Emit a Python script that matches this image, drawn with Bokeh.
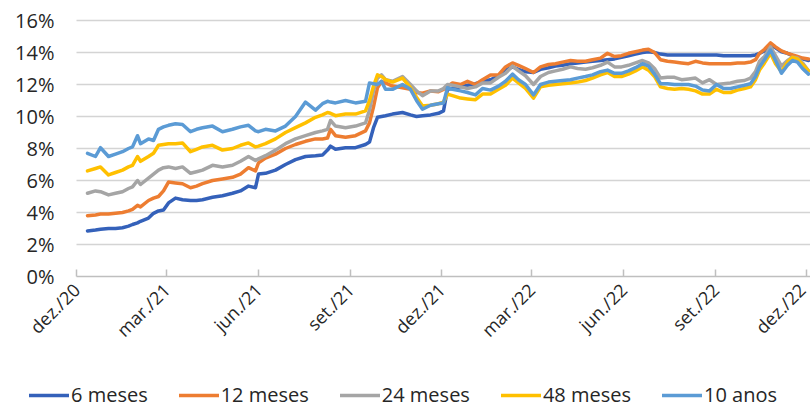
import pandas as pd
from bokeh.plotting import figure
from bokeh.models import (ColumnDataSource, FixedTicker, Range1d, Legend, LegendItem,
                          PrintfTickFormatter)
from bokeh.embed import file_html
from bokeh.resources import INLINE

# ---------------- data ----------------
START = "2020-12-01"
DAYS = [11, 19, 24, 32, 39, 46, 52, 56, 61, 64,
        72, 77, 82, 87, 92, 99, 106, 114, 120, 126,
        136, 146, 156, 164, 172, 179, 182, 189, 199, 209,
        219, 229, 239, 246, 251, 254, 259, 269, 279, 289,
        293, 297, 301, 305, 309, 316, 326, 334, 340, 346,
        354, 362, 367, 371, 376, 384, 391, 399, 406, 414,
        422, 429, 436, 442, 449, 457, 464, 472, 479, 486,
        494, 501, 509, 516, 524, 531, 538, 545, 552, 559,
        566, 572, 578, 584, 591, 598, 605, 612, 619, 626,
        633, 640, 647, 654, 661, 668, 674, 679, 683, 688,
        694, 699, 705, 711, 716, 721, 726, 732]

S_6M = [2.85, 2.9, 2.95, 3.0, 3.0, 3.05, 3.15, 3.25, 3.35, 3.45,
        3.65, 3.95, 4.1, 4.15, 4.6, 4.9, 4.8, 4.75, 4.75, 4.8,
        4.95, 5.05, 5.2, 5.35, 5.65, 5.55, 6.4, 6.45, 6.65, 7.0,
        7.3, 7.5, 7.55, 7.6, 7.9, 8.15, 7.95, 8.05, 8.05, 8.25,
        8.4, 9.3, 9.95, 10.0, 10.05, 10.15, 10.25, 10.1, 10.0, 10.05,
        10.1, 10.2, 10.35, 11.7, 11.75, 11.85, 11.95, 12.05, 12.2, 12.3,
        12.55, 12.9, 13.1, 12.95, 12.8, 12.75, 12.95, 13.05, 13.15, 13.2,
        13.3, 13.35, 13.4, 13.45, 13.5, 13.55, 13.6, 13.7, 13.8, 13.9,
        14.0, 14.05, 14.0, 13.9, 13.85, 13.85, 13.85, 13.85, 13.85, 13.85,
        13.85, 13.85, 13.8, 13.8, 13.8, 13.8, 13.8, 13.85, 13.95, 14.1,
        14.45, 14.3, 14.05, 13.95, 13.8, 13.7, 13.6, 13.5]

S_12M = [3.8, 3.85, 3.9, 3.9, 3.95, 4.0, 4.1, 4.2, 4.45, 4.35,
         4.75, 4.9, 5.0, 5.35, 5.9, 5.85, 5.8, 5.55, 5.65, 5.8,
         6.0, 6.1, 6.2, 6.4, 6.8, 6.6, 7.1, 7.4, 7.65, 8.0,
         8.25, 8.45, 8.6, 8.6, 8.65, 9.2, 8.8, 8.7, 8.8, 9.1,
         9.6, 10.6, 11.8, 12.2, 12.1, 11.9, 11.8, 11.7, 11.5, 11.45,
         11.6, 11.55, 11.7, 11.9, 12.1, 12.0, 12.2, 12.0, 12.3, 12.6,
         12.6, 13.1, 13.35, 13.2, 13.0, 12.75, 13.1, 13.25, 13.3, 13.4,
         13.5, 13.45, 13.45, 13.55, 13.65, 13.95, 13.75, 13.8, 13.95, 14.05,
         14.15, 14.2, 14.0, 13.55, 13.45, 13.4, 13.35, 13.3, 13.45, 13.35,
         13.3, 13.3, 13.3, 13.3, 13.35, 13.35, 13.4, 13.55, 13.95, 14.2,
         14.6, 14.35, 14.1, 13.95, 13.85, 13.75, 13.65, 13.6]

S_24M = [5.2, 5.35, 5.3, 5.1, 5.2, 5.3, 5.5, 5.6, 6.0, 5.75,
         6.15, 6.4, 6.65, 6.8, 6.85, 6.75, 6.85, 6.45, 6.55, 6.65,
         6.95, 6.85, 6.95, 7.2, 7.5, 7.25, 7.35, 7.55, 7.9, 8.3,
         8.6, 8.8, 9.0, 9.1, 9.2, 9.75, 9.4, 9.3, 9.4, 9.6,
         10.4, 11.6, 12.4, 12.6, 12.3, 12.2, 12.5, 12.0, 11.6, 11.3,
         11.6, 11.6, 11.75, 12.0, 11.95, 11.85, 11.75, 11.85, 12.1, 12.1,
         12.45, 12.7, 13.15, 12.85, 12.55, 12.0, 12.5, 12.75, 12.85, 12.95,
         13.1, 13.0, 12.95, 13.05, 13.2, 13.4, 13.1, 13.1, 13.2, 13.35,
         13.5, 13.35, 13.0, 12.4, 12.45, 12.45, 12.3, 12.35, 12.4, 12.1,
         12.3, 12.0, 12.05, 12.1, 12.2, 12.25, 12.4, 12.8, 13.45, 13.75,
         14.35, 13.8, 13.15, 13.5, 13.7, 13.65, 13.35, 12.85]

S_48M = [6.6, 6.75, 6.85, 6.35, 6.5, 6.65, 6.85, 6.95, 7.5, 7.2,
         7.5, 7.7, 8.2, 8.25, 8.3, 8.3, 8.35, 7.8, 7.95, 8.1,
         8.2, 7.9, 8.0, 8.2, 8.35, 8.1, 8.15, 8.3, 8.6, 9.0,
         9.3, 9.6, 9.95, 10.1, 10.25, 10.2, 10.05, 10.15, 10.15, 10.35,
         11.0, 11.9, 12.6, 12.5, 12.3, 12.15, 12.4, 11.8, 11.2, 10.65,
         10.7, 10.8, 10.9, 11.4, 11.3, 11.15, 11.1, 11.05, 11.4, 11.4,
         11.7, 11.95, 12.4, 12.1, 11.75, 11.15, 11.85, 11.95, 12.0, 12.05,
         12.1, 12.15, 12.25, 12.4, 12.6, 12.75, 12.5, 12.5, 12.65, 12.85,
         13.1, 12.9, 12.5, 11.85, 11.75, 11.7, 11.75, 11.7, 11.6, 11.4,
         11.4, 11.7, 11.5, 11.5, 11.65, 11.75, 11.85, 12.3, 12.9, 13.35,
         13.95, 13.3, 12.8, 13.4, 13.7, 13.6, 13.25, 12.85]

S_10A = [7.7, 7.5, 8.05, 7.5, 7.65, 7.8, 8.0, 8.1, 8.8, 8.3,
         8.6, 8.5, 9.2, 9.35, 9.45, 9.55, 9.5, 9.05, 9.2, 9.3,
         9.4, 9.05, 9.2, 9.35, 9.45, 9.1, 9.05, 9.2, 9.1, 9.4,
         10.0, 10.9, 10.4, 10.8, 10.95, 10.9, 10.85, 11.0, 10.85, 10.95,
         12.1, 12.05, 12.0, 12.2, 11.7, 11.7, 12.0, 11.7, 11.0, 10.45,
         10.7, 10.8, 10.85, 11.8, 11.7, 11.6, 11.5, 11.35, 11.75, 11.65,
         11.9, 12.2, 12.65, 12.3, 12.0, 11.35, 12.0, 12.15, 12.2, 12.25,
         12.3, 12.4, 12.5, 12.6, 12.8, 12.9, 12.7, 12.7, 12.85, 13.05,
         13.3, 13.15, 12.65, 12.05, 12.05, 12.0, 12.0, 12.0, 11.9, 11.65,
         11.6, 12.0, 11.75, 11.75, 11.85, 11.95, 12.05, 12.5, 13.1, 13.55,
         14.15, 13.5, 12.7, 13.2, 13.5, 13.4, 13.0, 12.65]

SERIES_NAMES = ["6 meses", "12 meses", "24 meses", "48 meses", "10 anos"]
SERIES_VALUES = [S_6M, S_12M, S_24M, S_48M, S_10A]
COLORS = ["#3461BA", "#ED7D31", "#A5A5A5", "#FFC000", "#5B9BD5"]

TICK_DATES = ["2020-12-01", "2021-03-01", "2021-06-01", "2021-09-01", "2021-12-01",
              "2022-03-01", "2022-06-01", "2022-09-01", "2022-12-01"]
TICK_LABELS = ["dez./20", "mar./21", "jun./21", "set./21", "dez./21",
               "mar./22", "jun./22", "set./22", "dez./22"]
Y_TICKS = [0, 2, 4, 6, 8, 10, 12, 14, 16]
Y_MAX = 16

# ---------------- layout (pixels) ----------------
W, H = 810, 408
FRAME_LEFT, FRAME_RIGHT = 76, 810     # where the plot area starts / ends
FRAME_TOP, FRAME_BOTTOM = 20, 276     # y of 16% and of 0%
FONT = "Open Sans"
TEXT_COLOR = "#262626"

start_ts = pd.Timestamp(START)
px_per_day = 1.0
px_per_unit = (FRAME_BOTTOM - FRAME_TOP) / Y_MAX
view_x0 = start_ts - pd.Timedelta(days=FRAME_LEFT / px_per_day)
view_x1 = start_ts + pd.Timedelta(days=(W - FRAME_LEFT) / px_per_day)
view_y0 = -(H - FRAME_BOTTOM) / px_per_unit
view_y1 = Y_MAX + FRAME_TOP / px_per_unit
plot_end = start_ts + pd.Timedelta(days=(FRAME_RIGHT - FRAME_LEFT) / px_per_day)

dates = start_ts + pd.to_timedelta(DAYS, unit="D")
data = {"date": dates}
keys = ["s6", "s12", "s24", "s48", "s10"]
for k, v in zip(keys, SERIES_VALUES):
    data[k] = v
src = ColumnDataSource(data)


def ms(d):
    return float(pd.Timestamp(d).value // 10**6)


p = figure(width=W, height=H, x_axis_type="datetime",
           output_backend="svg", toolbar_location=None,
           x_range=Range1d(view_x0, view_x1), y_range=Range1d(view_y0, view_y1),
           min_border_left=0, min_border_right=0, min_border_top=0, min_border_bottom=0)
p.outline_line_color = None
p.background_fill_color = "white"
p.border_fill_color = "white"
p.grid.visible = False

# horizontal gridlines, limited to the plot area
grid_src = ColumnDataSource({"y": Y_TICKS[1:],
                             "x0": [start_ts] * (len(Y_TICKS) - 1),
                             "x1": [plot_end] * (len(Y_TICKS) - 1)})
p.segment(x0="x0", x1="x1", y0="y", y1="y", source=grid_src,
          line_color="#D4D4D4", line_width=1.5)

renderers = []
for k, c in zip(keys, COLORS):
    r = p.line("date", k, source=src, line_color=c, line_width=3.5,
               line_join="round", line_cap="round")
    renderers.append(r)

# x axis (fixed at 0 %)
tick_ms = [ms(d) for d in TICK_DATES]
xa = p.xaxis[0]
xa.fixed_location = 0
xa.bounds = (ms(start_ts), ms(plot_end))
xa.ticker = FixedTicker(ticks=tick_ms, minor_ticks=[])
xa.major_label_overrides = {t: lab for t, lab in zip(tick_ms, TICK_LABELS)}
xa.major_label_orientation = 0.785398
xa.axis_line_color = "#BFBFBF"
xa.axis_line_width = 1.5
xa.major_tick_line_color = "#BFBFBF"
xa.major_tick_line_width = 1.5
xa.major_tick_in = 7
xa.major_tick_out = 0
xa.minor_tick_line_color = None
xa.major_label_standoff = 10
xa.major_label_text_font = FONT
xa.major_label_text_font_size = "18px"
xa.major_label_text_color = TEXT_COLOR

# y axis (fixed at the first date)
ya = p.yaxis[0]
ya.fixed_location = ms(start_ts)
ya.bounds = (0, Y_MAX)
ya.ticker = FixedTicker(ticks=Y_TICKS, minor_ticks=[])
ya.formatter = PrintfTickFormatter(format="%d%%")
ya.axis_line_color = None
ya.major_tick_line_color = None
ya.minor_tick_line_color = None
ya.major_tick_in = 0
ya.major_tick_out = 0
ya.major_label_standoff = 22
ya.major_label_text_font = FONT
ya.major_label_text_font_size = "20px"
ya.major_label_text_color = TEXT_COLOR

legend = Legend(items=[LegendItem(label=n, renderers=[r]) for n, r in zip(SERIES_NAMES, renderers)],
                orientation="horizontal", location=(29, 0),
                padding=0, margin=0, spacing=31,
                glyph_width=40, glyph_height=20, label_standoff=2,
                border_line_color=None, background_fill_alpha=0,
                label_text_font=FONT, label_text_font_size="20px",
                label_text_color=TEXT_COLOR)
p.add_layout(legend)

open("out.html", "w").write(file_html(p, INLINE))
